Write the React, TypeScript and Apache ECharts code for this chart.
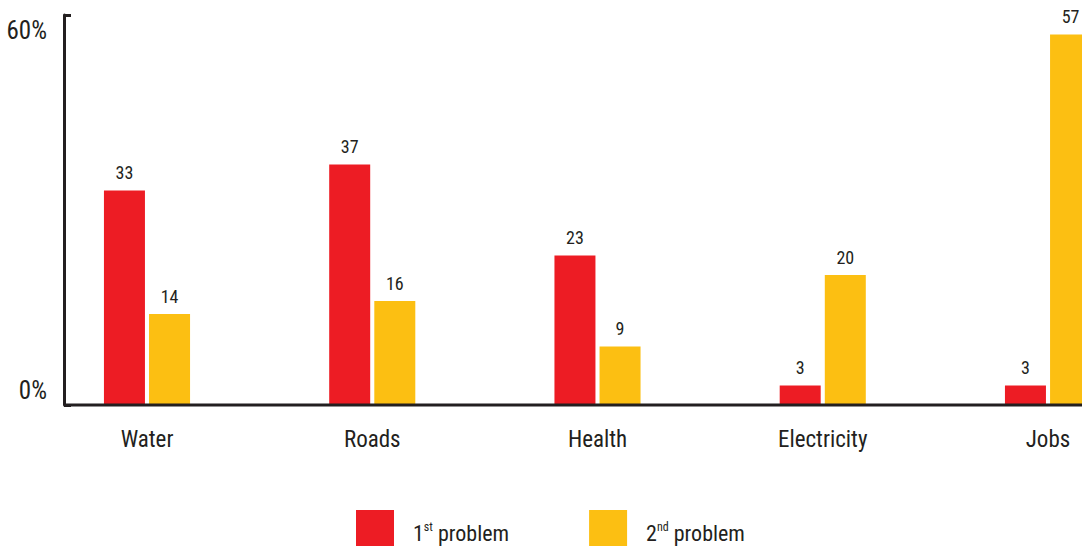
import React, { useEffect, useRef } from "react";
import * as echarts from "echarts";

const categories = ["Water", "Roads", "Health", "Electricity", "Jobs"];
const firstProblem = [33, 37, 23, 3, 3];
const secondProblem = [14, 16, 9, 20, 57];
const yTicks = [0, 60];

const FONT = "'Roboto Condensed', 'Liberation Sans', sans-serif";
const DARK = "#231f20";
const RED = "#ED1C24";
const YELLOW = "#FCBF12";

export default function App() {
  const ref = useRef<HTMLDivElement>(null);
  useEffect(() => {
    if (!ref.current) return;
    const chart = echarts.init(ref.current, null, { renderer: "svg" });
    const labelStyle = {
      show: true,
      position: "top",
      distance: 9,
      fontFamily: FONT,
      fontSize: 18,
      color: DARK,
    };
    chart.setOption({
      animation: false,
      textStyle: { fontFamily: FONT },
      grid: { left: 147, right: 34, top: 15, bottom: 143 },
      legend: {
        left: 356,
        top: 510,
        padding: 0,
        itemWidth: 38,
        itemHeight: 36,
        itemGap: 80,
        icon: "rect",
        data: ["1st problem", "2nd problem"],
        formatter: (name: string) =>
          name === "1st problem" ? "{n|1}{s|st}{n| problem}" : "{n|2}{s|nd}{n| problem}",
        textStyle: {
          fontFamily: FONT,
          padding: [9, 0, 0, 14],
          rich: {
            n: { fontFamily: FONT, fontSize: 22, color: DARK, lineHeight: 24, verticalAlign: "bottom" },
            s: { fontFamily: FONT, fontSize: 12, color: DARK, lineHeight: 24, verticalAlign: "top" },
          },
        },
      },
      xAxis: {
        type: "category",
        data: categories,
        boundaryGap: false,
        axisLine: { show: false },
        axisTick: { show: false },
        splitLine: { show: false },
        axisLabel: { margin: 23, fontFamily: FONT, fontSize: 23, color: DARK },
      },
      yAxis: {
        type: "value",
        min: yTicks[0],
        max: yTicks[1],
        interval: 60,
        offset: 83,
        axisLine: { show: true, lineStyle: { color: DARK, width: 3 } },
        axisTick: { show: true, inside: true, length: 7, lineStyle: { color: DARK, width: 3 } },
        splitLine: { show: false },
        axisLabel: {
          margin: 17,
          formatter: (v: number) => (v === yTicks[1] ? `{a|${v}%}` : `{b|${v}%}`),
          rich: {
            a: { fontFamily: FONT, fontSize: 25, color: DARK, padding: [30, 0, 0, 0] },
            b: { fontFamily: FONT, fontSize: 25, color: DARK, padding: [0, 0, 30, 0] },
          },
        },
      },
      graphic: [
        {
          type: "line",
          shape: { x1: 64, y1: 405, x2: 1082, y2: 405 },
          style: { stroke: DARK, lineWidth: 3 },
          z: 10,
        },
      ],
      series: [
        {
          name: "1st problem",
          type: "bar",
          data: firstProblem,
          barWidth: 41,
          barGap: "10%",
          clip: false,
          itemStyle: { color: RED },
          label: labelStyle,
        },
        {
          name: "2nd problem",
          type: "bar",
          data: secondProblem,
          barWidth: 41,
          barGap: "10%",
          clip: false,
          itemStyle: { color: YELLOW },
          label: labelStyle,
        },
      ],
    });
    return () => chart.dispose();
  }, []);
  return <div ref={ref} style={{ position: "absolute", left: 0, top: 0, width: 1082, height: 548 }} />;
}
